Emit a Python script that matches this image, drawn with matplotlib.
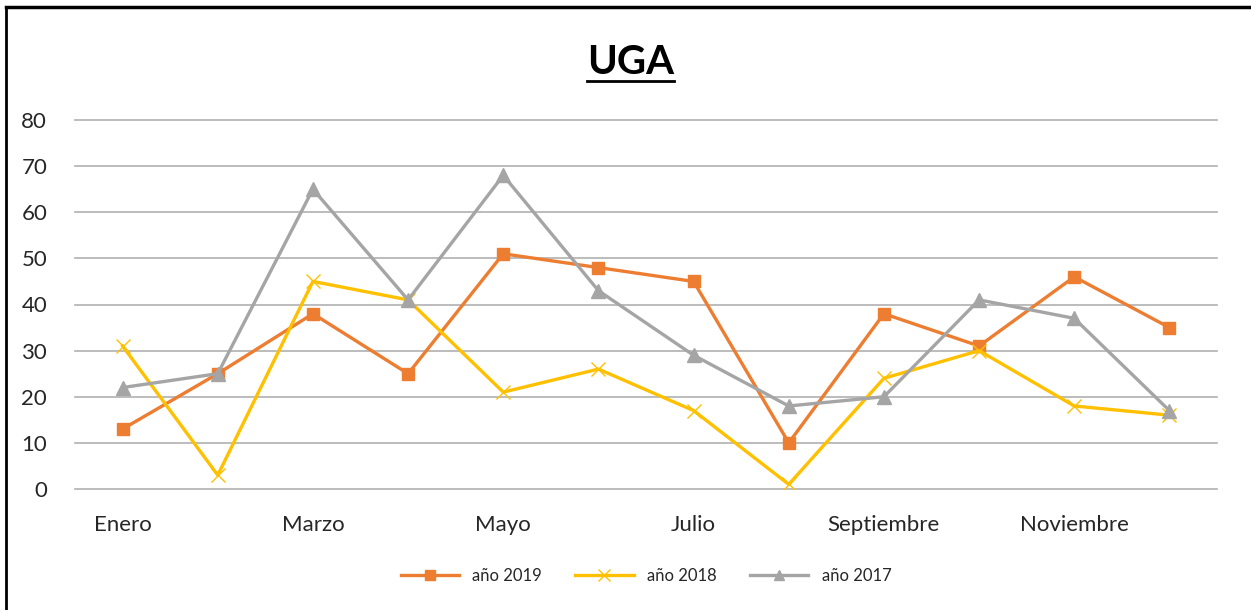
import matplotlib.pyplot as plt
from matplotlib.lines import Line2D

# -----------------------------
# Data
# -----------------------------
meses = ["Enero", "Febrero", "Marzo", "Abril", "Mayo", "Junio",
         "Julio", "Agosto", "Septiembre", "Octubre", "Noviembre", "Diciembre"]
anio_2019 = [13, 25, 38, 25, 51, 48, 45, 10, 38, 31, 46, 35]
anio_2018 = [31, 3, 45, 41, 21, 26, 17, 1, 24, 30, 18, 16]
anio_2017 = [22, 25, 65, 41, 68, 43, 29, 18, 20, 41, 37, 17]
y_ticks = [0, 10, 20, 30, 40, 50, 60, 70, 80]

plt.rcParams['font.family'] = ['Lato', 'DejaVu Sans']
TXT = '#262626'

fig = plt.figure(figsize=(12.51, 6.10), dpi=100)
ax = fig.add_axes([75 / 1251, 1 - 489 / 610, (1217 - 75) / 1251, (489 - 120) / 610])

x = list(range(len(meses)))
ax.plot(x, anio_2019, color='#ED7D31', lw=2.4, marker='s', markersize=8.5,
        label='año 2019', zorder=3)
ax.plot(x, anio_2018, color='#FFC000', lw=2.4, marker='x', markersize=10,
        markeredgewidth=1.0, label='año 2018', zorder=3)
ax.plot(x, anio_2017, color='#A5A5A5', lw=2.4, marker='^', markersize=9.5,
        label='año 2017', zorder=3)

ax.set_xlim(-0.5, len(meses) - 0.5)
ax.set_ylim(0, 80)
ax.set_yticks(y_ticks)
ax.set_xticks(x[::2])
ax.set_xticklabels(meses[::2])
ax.tick_params(axis='both', length=0, labelsize=16, colors=TXT)
ax.tick_params(axis='x', pad=19)
ax.tick_params(axis='y', pad=20)
ax.grid(axis='y', color='#B0B0B0', lw=1.2)
for gl in ax.get_ygridlines():
    gl.set_clip_on(False)
ax.set_axisbelow(True)
for s in ax.spines.values():
    s.set_visible(False)

# Title with underline
t = fig.text(0.504, 1 - 63 / 610, "UGA", ha='center', va='center',
             fontsize=29, fontweight='bold', color='black')
fig.canvas.draw()
bb = t.get_window_extent()
W, H = fig.bbox.width, fig.bbox.height
fig.add_artist(Line2D([bb.x0 / W, bb.x1 / W], [(bb.y0 + 1) / H, (bb.y0 + 1) / H],
                      color='black', lw=2, transform=fig.transFigure))

ax.legend(loc='center', bbox_to_anchor=(0.5, -0.235), ncol=3, frameon=False,
          fontsize=12, handlelength=3.5, columnspacing=2.0, labelcolor=TXT,
          markerscale=0.8)

# Border
fig.add_artist(Line2D([6 / 1251, 1], [1 - 7 / 610, 1 - 7 / 610], color='black', lw=2.5,
                      transform=fig.transFigure))
fig.add_artist(Line2D([6 / 1251, 6 / 1251], [0, 1 - 7 / 610], color='black', lw=2.0,
                      transform=fig.transFigure))

fig.savefig("out.png", dpi=100)
